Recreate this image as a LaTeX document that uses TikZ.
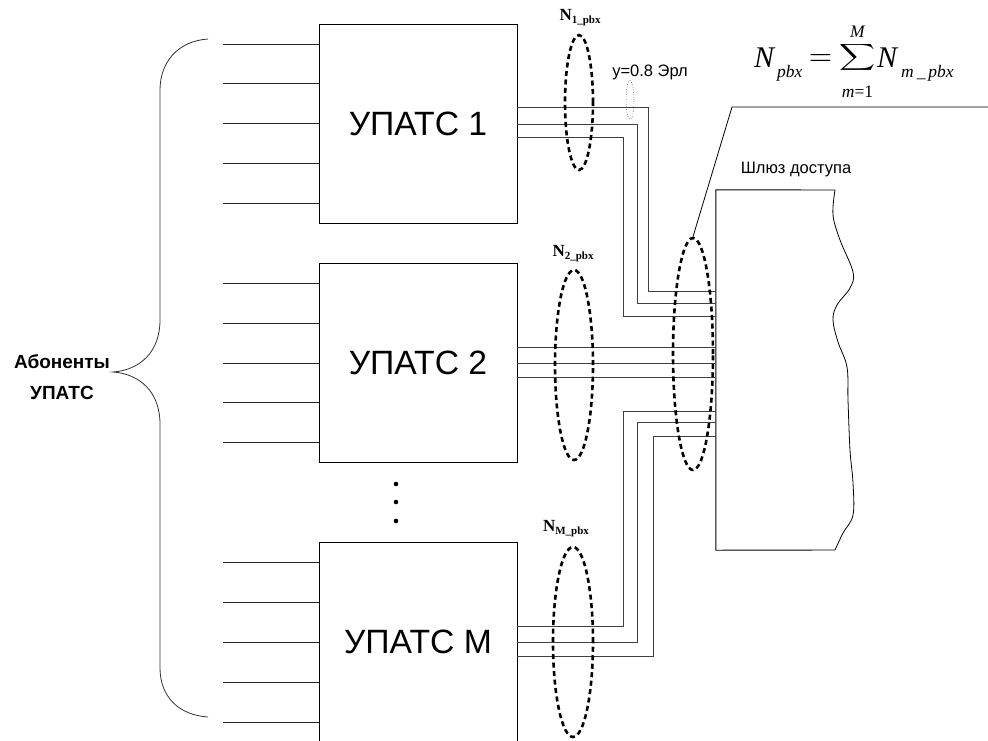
\documentclass[tikz,border=0pt]{standalone}
\usepackage{fontspec}
\setmainfont{Liberation Sans}
\newfontfamily\serifrm{Liberation Serif}
\usetikzlibrary{shapes.geometric}
\begin{document}
\begin{tikzpicture}[x=1pt,y=-1pt,line join=miter,
  box/.style={draw,line width=0.9pt,minimum width=198pt,minimum height=199pt,inner sep=0pt,font=\fontsize{33.7}{40}\selectfont},
  wire/.style={line width=0.8pt,draw=black!85},
  trunk/.style={line width=1pt,draw=black!75},
  grp/.style={draw,ellipse,line width=2.6pt,dash pattern=on 5pt off 3.5pt,inner sep=0pt},
  nlab/.style={font=\serifrm\bfseries\fontsize{17}{20}\selectfont,inner sep=0pt},
  smalltxt/.style={font=\fontsize{16.5}{19}\selectfont,inner sep=0pt},
  fml/.style={font=\serifrm\fontsize{30}{34}\selectfont,inner sep=0pt},
  fsub/.style={font=\serifrm\fontsize{17.5}{20}\selectfont,inner sep=0pt},
  dotn/.style={circle,fill,inner sep=0pt,minimum size=4.6pt}]
\useasboundingbox (0,0) rectangle (988,740);

% PBX boxes
\node[box] (u1) at (418,123.5) {УПАТС 1};
\node[box] (u2) at (418,362.5) {УПАТС 2};
\node[box] (uM) at (418,641.5) {УПАТС M};

% subscriber lines
\foreach \y [count=\k] in {44,83,123,163,203} {
  \coordinate (a1-\k) at (223,\y);
  \draw[wire] (a1-\k) -- (u1.west |- a1-\k);
}
\foreach \y [count=\k] in {283,323,363,402,442} {
  \coordinate (a2-\k) at (223,\y);
  \draw[wire] (a2-\k) -- (u2.west |- a2-\k);
}
\foreach \y [count=\k] in {562,602,642,682,722} {
  \coordinate (aM-\k) at (223,\y);
  \draw[wire] (aM-\k) -- (uM.west |- aM-\k);
}

% dots
\node[dotn] (d1) at (396,484) {};
\node[dotn] (d2) at (396,502) {};
\node[dotn] (d3) at (396,521) {};

% brace
\draw[line width=0.8pt,draw=black!80] (208,39) .. controls (178,41) and (160,62) .. (160,90)
  -- (160,320) .. controls (160,352) and (140,370) .. (113,372)
  .. controls (140,374) and (160,392) .. (160,424)
  -- (160,668) .. controls (160,696) and (178,715) .. (208,717);
\node[font=\bfseries\fontsize{19}{31}\selectfont,align=center,inner sep=0pt] (ab) at (62,377) {Абоненты\\УПАТС};

% access gateway
\node[minimum width=119pt,minimum height=360pt,inner sep=0pt] (gw) at (775.5,370) {};
\draw[line width=0.9pt] (835,550) -- (gw.south west) -- (gw.north west) -- (835,190);
\draw[line width=0.8pt] plot[smooth,tension=0.6] coordinates {(835,190) (833,215) (840,240) (853,272) (850,288) (837,305) (833,320) (838,342) (847,367) (848,400) (850,450) (853,483) (853,515) (843,533) (835,550)};
\node[smalltxt] (gwl) at (796,170) {Шлюз доступа};

% trunks from PBX 1
\draw[trunk] (u1.east |- 0,107) -| (648,291) -- (gw.west |- 0,291);
\draw[trunk] (u1.east |- 0,124) -| (637,303) -- (gw.west |- 0,303);
\draw[trunk] (u1.east |- 0,137) -| (623,316) -- (gw.west |- 0,316);
% trunks from PBX 2
\draw[trunk] (u2.east |- 0,347) -- (gw.west |- 0,347);
\draw[trunk] (u2.east |- 0,363) -- (gw.west |- 0,363);
\draw[trunk] (u2.east |- 0,377) -- (gw.west |- 0,377);
% trunks from PBX M
\draw[trunk] (uM.east |- 0,626) -| (623,411) -- (gw.west |- 0,411);
\draw[trunk] (uM.east |- 0,642) -| (637,422) -- (gw.west |- 0,422);
\draw[trunk] (uM.east |- 0,656) -| (653,436) -- (gw.west |- 0,436);

% group ellipses
\node[grp,minimum width=28pt,minimum height=135pt] (e1) at (579,102.5) {};
\node[grp,minimum width=38pt,minimum height=190pt] (e2) at (574,365) {};
\node[grp,minimum width=40pt,minimum height=190pt] (eM) at (573,642) {};
\node[grp,minimum width=40pt,minimum height=232pt] (eg) at (693,354) {};
\node[draw,ellipse,dotted,line width=0.5pt,minimum width=8pt,minimum height=39pt,inner sep=0pt] (ey) at (630,100) {};

% labels
\node[nlab] (n1) at (580,18) {N\raisebox{-3pt}{\fontsize{11}{12}\selectfont 1\_pbx}};
\node[nlab] (n2) at (573,254) {N\raisebox{-3pt}{\fontsize{11}{12}\selectfont 2\_pbx}};
\node[nlab] (nM) at (566,529) {N\raisebox{-3pt}{\fontsize{11}{12}\selectfont M\_pbx}};
\node[smalltxt] (yl) at (650,72) {y=0.8 Эрл};

% formula
\node[fml,anchor=base west] (fN) at (754,67) {\itshape N};
\node[fsub,anchor=base west] (fp) at (777,77) {\itshape pbx};
\node[scale=3,inner sep=0pt] (feq) at (820.5,60) {$=$};
\node[xscale=2.5,yscale=1.85,inner sep=0pt] (fS) at (857.5,57) {$\displaystyle\sum$};
\node[fsub,anchor=base] (fM) at (857.5,37) {\itshape M};
\node[fsub,anchor=base] (fm) at (857.5,97) {\itshape m\upshape =1};
\node[fml,anchor=base west] (fN2) at (877,67) {\itshape N};
\node[fsub,anchor=base west] (fmp) at (901,77) {\itshape m\,\_\,pbx};

% leader
\coordinate (f1) at (732,107);
\coordinate (f2) at (988,107);
\draw[line width=0.8pt] (eg.north) -- (f1) -- (f2);
\end{tikzpicture}
\end{document}
